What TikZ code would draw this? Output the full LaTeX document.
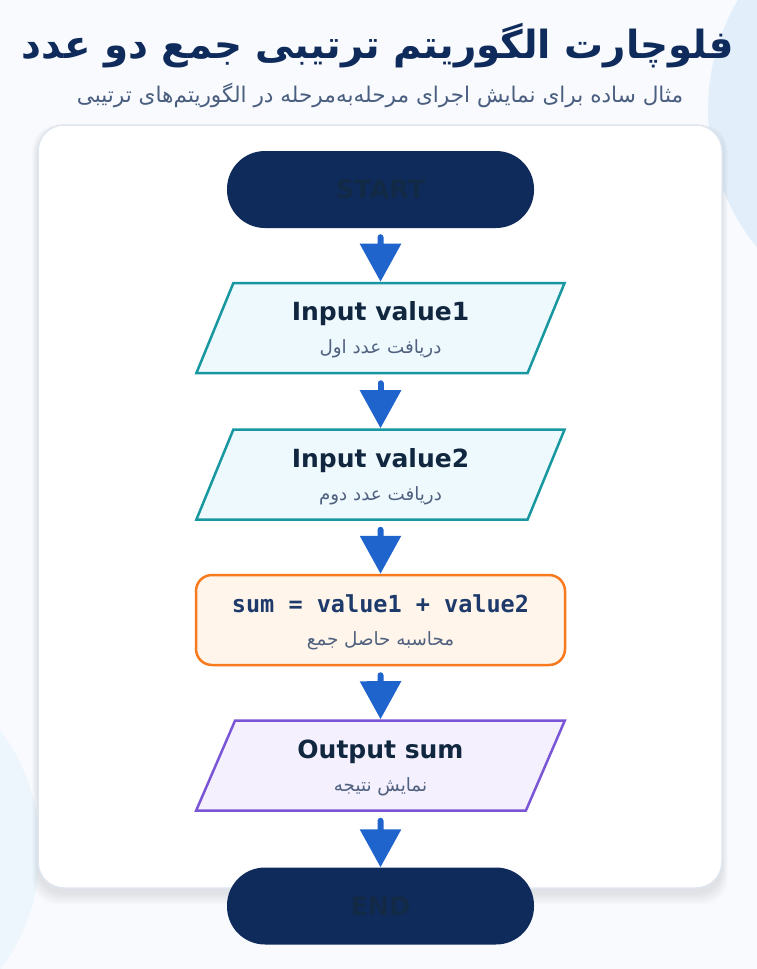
\documentclass[tikz,border=0pt]{standalone}
\usepackage{fontspec}
\setsansfont{DejaVu Sans}
\setmonofont{DejaVu Sans Mono}
\newfontfamily\fafont[Script=Arabic]{DejaVu Sans}
\TeXXeTstate=1
\usetikzlibrary{arrows.meta, positioning, shapes.geometric}

\definecolor{pagebg}{HTML}{F8FAFD}
\definecolor{blobA}{HTML}{E3EEFB}
\definecolor{blobB}{HTML}{EEF6FD}
\definecolor{cardline}{HTML}{DFE6F0}
\definecolor{navy}{HTML}{0F2B5B}
\definecolor{pilltext}{HTML}{132A47}
\definecolor{subtitle}{HTML}{4A5E80}
\definecolor{boxtext}{HTML}{10273F}
\definecolor{subtext}{HTML}{50617F}
\definecolor{arrblue}{HTML}{1F63CD}
\definecolor{inline}{HTML}{1797A0}
\definecolor{infill}{HTML}{EEF9FE}
\definecolor{calcline}{HTML}{F77A1E}
\definecolor{calcfill}{HTML}{FFF5EB}
\definecolor{calctext}{HTML}{1E3A6B}
\definecolor{outline}{HTML}{7A55D5}
\definecolor{outfill}{HTML}{F4F0FE}

\tikzset{
    pill/.style = {rectangle, rounded corners=38pt, minimum width=307pt, minimum height=77pt, fill=navy, text=pilltext, font=\sffamily\bfseries\fontsize{25.5}{28}\selectfont},
    iobox/.style = {trapezium, trapezium left angle=71, trapezium right angle=109, trapezium stretches=true, minimum width=369pt, minimum height=90pt, line width=2.5pt, align=center, text=boxtext, font=\sffamily\bfseries\fontsize{25}{30}\selectfont},
    inbox/.style = {iobox, draw=inline, fill=infill},
    outbox/.style = {iobox, draw=outline, fill=outfill},
    calcbox/.style = {rectangle, rounded corners=16pt, minimum width=369pt, minimum height=90pt, line width=2.5pt, draw=calcline, fill=calcfill, align=center, text=calctext, font=\ttfamily\bfseries\fontsize{23.5}{30}\selectfont},
    flow/.style = {line width=6pt, draw=arrblue, line cap=round, -{Triangle[length=38pt, width=40pt]}}
}
\newcommand{\fasub}[1]{{\fafont\mdseries\color{subtext}\fontsize{18.3}{21}\selectfont\beginR #1\endR}}
\newcommand{\toppad}{\rule{0pt}{23pt}}

\begin{document}
\begin{tikzpicture}[x=1pt, y=-1pt]
\useasboundingbox (0,0) rectangle (757,969);

% Background and blobs
\begin{scope}
\clip (0,0) rectangle (757,969);
\fill[pagebg] (0,0) rectangle (757,969);
\fill[blobA] (925,110) circle (217);
\fill[blobB] (-160,850) circle (200);
\end{scope}

% Heading
\node[font=\fafont\bfseries\fontsize{38.8}{44}\selectfont, text=navy] (title) at (378,46) {\beginR فلوچارت الگوریتم ترتیبی جمع دو عدد\endR};
\node[font=\fafont\fontsize{21.6}{26}\selectfont, text=subtitle] (subtitle) at (380,95) {\beginR مثال ساده برای نمایش اجرای مرحله^^^^200cبه^^^^200cمرحله در الگوریتم^^^^200cهای ترتیبی\endR};

% Card with soft shadow
\foreach \s in {1,...,12}
    \fill[navy, opacity=0.007, rounded corners=26pt] (38-\s/2,130-\s/2) rectangle (722+\s/2,893+\s);
\draw[cardline, line width=1.5pt, fill=white, rounded corners=26pt] (38,125) rectangle (722,888);

% Steps
\node[pill] (start) at (380.5,189.5) {START};
\node[inbox] (in1) at (380.5,328) {\toppad Input value1\\[3pt]\fasub{دریافت عدد اول}};
\node[inbox] (in2) at (380.5,474.5) {\toppad Input value2\\[3pt]\fasub{دریافت عدد دوم}};
\node[calcbox] (calc) at (380.5,620) {\toppad sum = value1 + value2\\[3pt]\fasub{محاسبه حاصل جمع}};
\node[outbox] (out) at (380.5,765.5) {\toppad Output sum\\[3pt]\fasub{نمایش نتیجه}};
\node[pill] (end) at (380.5,906) {END};

% Arrows
\draw[flow] ([yshift=-9pt]start.south) -- (in1.north);
\draw[flow] ([yshift=-9pt]in1.south) -- (in2.north);
\draw[flow] ([yshift=-9pt]in2.south) -- (calc.north);
\draw[flow] ([yshift=-9pt]calc.south) -- (out.north);
\draw[flow] ([yshift=-9pt]out.south) -- (end.north);
\end{tikzpicture}
\end{document}
